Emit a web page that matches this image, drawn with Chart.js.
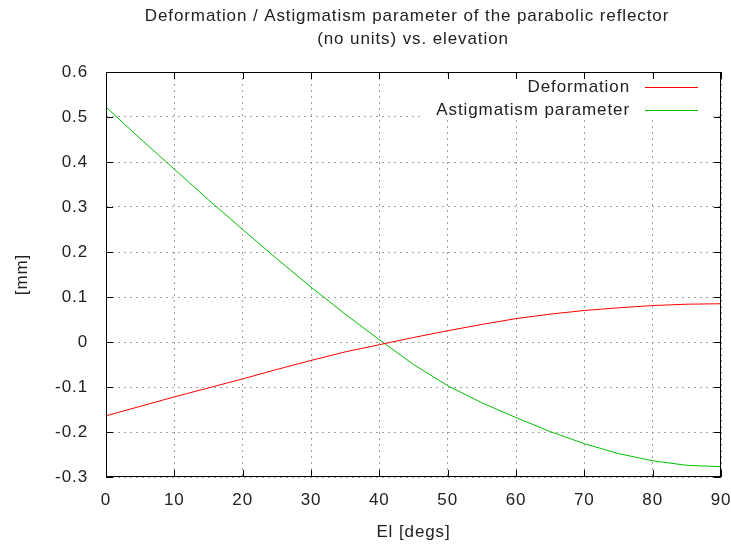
<!DOCTYPE html>
<html>
<head>
<meta charset="utf-8">
<script src="https://cdn.jsdelivr.net/npm/chart.js@4.4.0/dist/chart.umd.min.js"></script>
<style>
  html, body { margin: 0; padding: 0; background: #fff; }
  #wrap { width: 731px; height: 547px; }
</style>
</head>
<body>
<div id="wrap"><canvas id="myChart" width="731" height="547"></canvas></div>
<script>
// elevation in degrees
var elevation = [0, 5, 10, 15, 20, 25, 30, 35, 40, 45, 50, 55, 60, 65, 70, 75, 80, 85, 90];
// deformation [mm]
var deformation = [-0.164, -0.143, -0.122, -0.102, -0.082, -0.061, -0.041, -0.022, -0.006, 0.010,
                   0.025, 0.039, 0.052, 0.062, 0.070, 0.076, 0.081, 0.084, 0.085];
// astigmatism parameter (no units)
var astigmatism = [0.522, 0.452, 0.384, 0.316, 0.250, 0.185, 0.122, 0.062, 0.005, -0.050,
                   -0.097, -0.135, -0.168, -0.199, -0.226, -0.248, -0.264, -0.274, -0.277];
var xTicks = [0, 10, 20, 30, 40, 50, 60, 70, 80, 90];
var yTicks = [-0.3, -0.2, -0.1, 0, 0.1, 0.2, 0.3, 0.4, 0.5, 0.6];
var titleLines = ["Deformation / Astigmatism parameter of the parabolic reflector", "(no units) vs. elevation"];

var FONT = "'Liberation Sans', Arial, sans-serif";
var TXT = "#222";

function pts(ys) {
  return elevation.map(function(x, i) { return { x: x, y: ys[i] }; });
}

// gnuplot look: full frame, inward ticks, opaque key, text titles
var gnuplotLook = {
  id: 'gnuplotLook',
  beforeDraw: function(chart) {
    chart.ctx.letterSpacing = '0.9px';
  },
  beforeDatasetsDraw: function(chart) {
    var ctx = chart.ctx;
    ctx.save();
    ctx.fillStyle = '#fff';
    ctx.fillRect(424, 75, 289, 45);
    ctx.restore();
  },
  afterDraw: function(chart) {
    var ctx = chart.ctx, a = chart.chartArea;
    var xs = chart.scales.x, ys = chart.scales.y;
    ctx.save();
    ctx.letterSpacing = '0.9px';
    ctx.strokeStyle = '#000';
    ctx.lineWidth = 1;
    ctx.strokeRect(a.left + 0.5, a.top + 0.5, a.right - a.left - 1, a.bottom - a.top - 1);
    ctx.beginPath();
    xTicks.forEach(function(v) {
      var p = Math.round(xs.getPixelForValue(v)) + 0.5;
      ctx.moveTo(p, a.bottom); ctx.lineTo(p, a.bottom - 7);
      ctx.moveTo(p, a.top); ctx.lineTo(p, a.top + 7);
    });
    yTicks.forEach(function(v) {
      var p = Math.round(ys.getPixelForValue(v)) + 0.5;
      ctx.moveTo(a.left, p); ctx.lineTo(a.left + 7, p);
      ctx.moveTo(a.right, p); ctx.lineTo(a.right - 7, p);
    });
    ctx.stroke();

    // title
    ctx.fillStyle = TXT;
    ctx.font = '17px ' + FONT;
    ctx.textAlign = 'center';
    ctx.textBaseline = 'middle';
    ctx.fillText(titleLines[0], 407, 16);
    ctx.fillText(titleLines[1], 413, 39);

    // key
    ctx.textAlign = 'right';
    chart.data.datasets.forEach(function(ds, i) {
      var y = 87 + i * 23;
      ctx.fillStyle = TXT;
      ctx.fillText(ds.label, 630, y);
      ctx.strokeStyle = ds.borderColor;
      ctx.beginPath();
      ctx.moveTo(645, y + 0.5); ctx.lineTo(698, y + 0.5);
      ctx.stroke();
    });
    ctx.restore();
  }
};

var ctx = document.getElementById("myChart").getContext('2d');
var myChart = new Chart(ctx, {
  type: 'line',
  data: {
    datasets: [{
      label: "Deformation",
      data: pts(deformation),
      borderColor: "#ff0000",
      borderWidth: 1,
      pointRadius: 0,
      tension: 0
    }, {
      label: "Astigmatism parameter",
      data: pts(astigmatism),
      borderColor: "#00c000",
      borderWidth: 1,
      pointRadius: 0,
      tension: 0
    }]
  },
  options: {
    responsive: false,
    animation: false,
    layout: { padding: { left: 0, right: 10, top: 72, bottom: 0 } },
    plugins: {
      legend: { display: false },
      title: { display: false },
      tooltip: { enabled: false }
    },
    scales: {
      x: {
        type: 'linear',
        min: 0,
        max: 90,
        afterFit: function(s) { s.height = 70; s.paddingLeft = 0; s.paddingRight = 0; },
        afterBuildTicks: function(s) { s.ticks = xTicks.map(function(v) { return { value: v }; }); },
        border: { display: false, dash: [2, 4] },
        grid: { color: '#a0a0a0', drawTicks: false },
        ticks: { padding: 13, color: TXT, font: { family: FONT, size: 17 } },
        title: { display: true, text: 'El [degs]', color: TXT, padding: 4, font: { family: FONT, size: 17 } }
      },
      y: {
        type: 'linear',
        min: -0.3,
        max: 0.6,
        afterFit: function(s) { s.width = 106; s.paddingTop = 0; s.paddingBottom = 0; },
        afterBuildTicks: function(s) { s.ticks = yTicks.map(function(v) { return { value: v }; }); },
        border: { display: false, dash: [2, 4] },
        grid: { color: '#a0a0a0', drawTicks: false },
        ticks: {
          padding: 18, color: TXT, font: { family: FONT, size: 17 },
          callback: function(v) { return Math.abs(v) < 1e-9 ? '0' : v.toFixed(1); }
        },
        title: { display: true, text: '[mm]', color: TXT, padding: 12, font: { family: FONT, size: 17 } }
      }
    }
  },
  plugins: [gnuplotLook]
});
</script>
</body>
</html>
